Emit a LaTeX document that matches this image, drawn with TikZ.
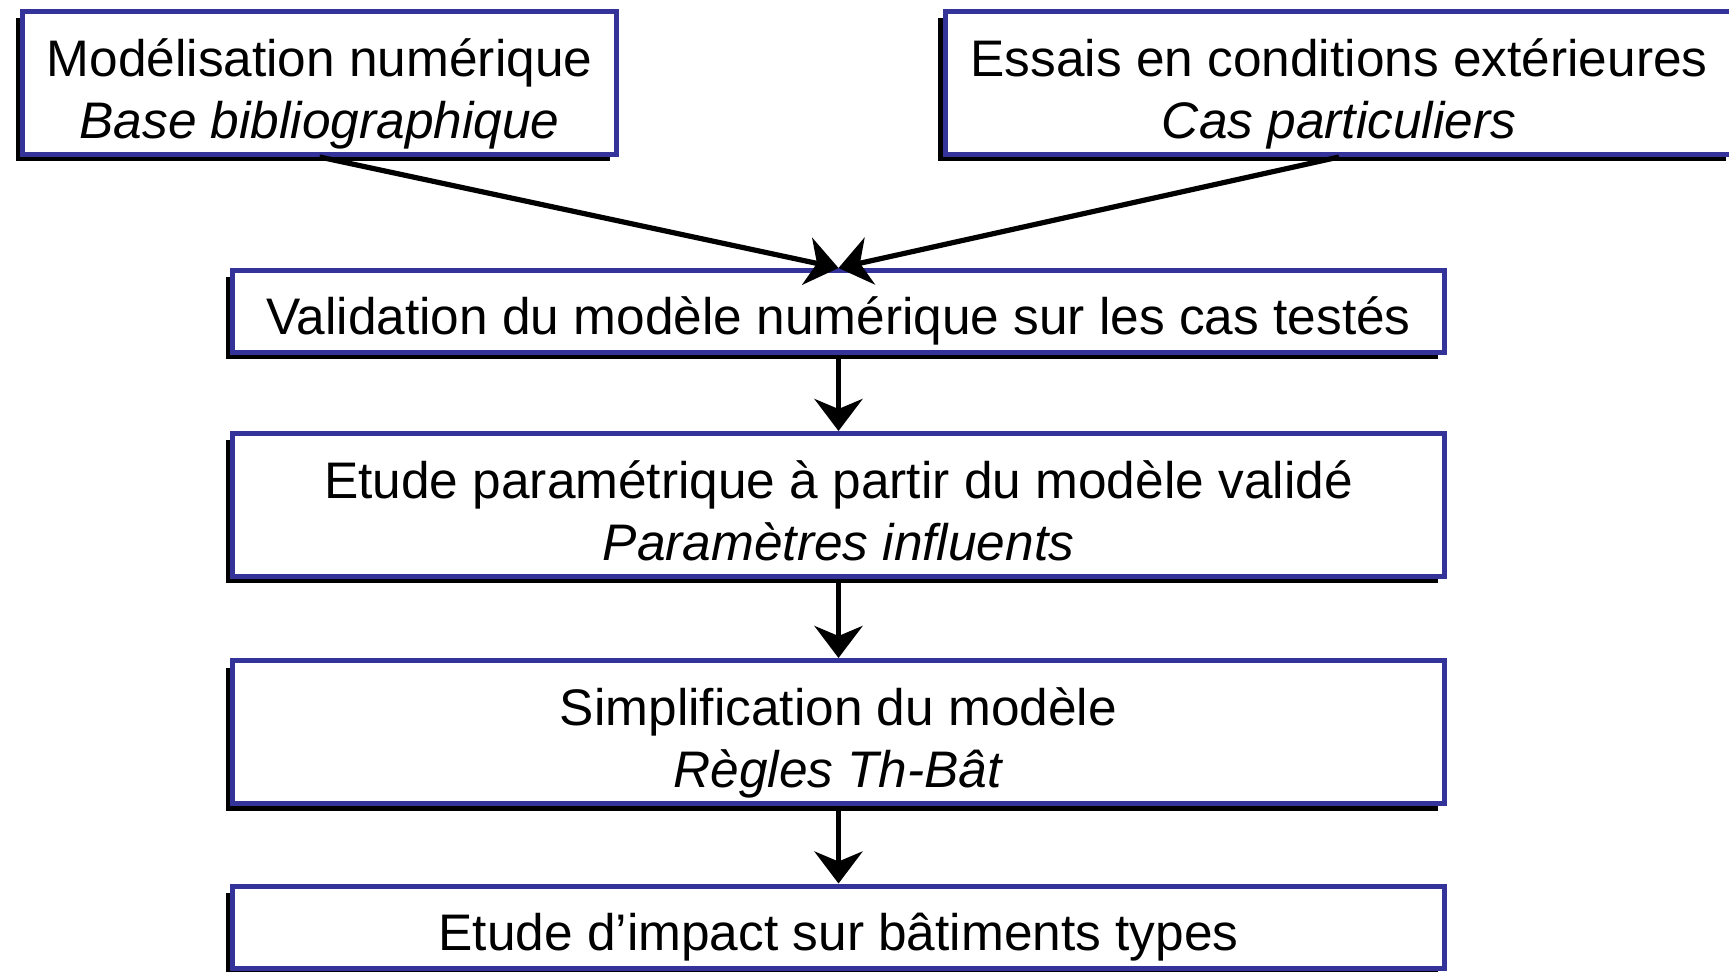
\documentclass[tikz,border=0pt]{standalone}
\usepackage{fontspec}
\setmainfont{Liberation Sans}
\usepackage{tikz}
\definecolor{bb}{RGB}{51, 51, 153}
\usetikzlibrary{shadows}
\usetikzlibrary{arrows.meta}

\begin{document}
\begin{tikzpicture}[x=0.5pt, y=-0.5pt,
  box/.style={rectangle, draw=bb, fill=white, line width=2.5pt, align=center, inner sep=0pt,
    font=\fontsize{25.7}{31}\selectfont, text height=55.5pt, text depth=0pt, minimum height=71.5pt,
    drop shadow={shadow xshift=-3.5pt, shadow yshift=-3.5pt, fill=black, opacity=1}},
  slim/.style={text height=23pt, minimum height=41pt},
  link/.style={line width=2.6pt, color=black, -{Stealth[length=16pt, width=24pt, inset=5pt]}}]
\useasboundingbox (0,0) rectangle (1729,972);
\node (1) [box, minimum width=297pt] at (319.5, 83) {Modélisation numérique\\\textit{Base bibliographique}};
\node (2) [box, minimum width=394pt] at (1339, 83) {Essais en conditions extérieures\\\textit{Cas particuliers}};
\node (3) [box, slim, minimum width=606pt] at (838.5, 311.5) {Validation du modèle numérique sur les cas testés};
\node (4) [box, minimum width=606pt] at (838.5, 505) {Etude paramétrique à partir du modèle validé\\\textit{Paramètres influents}};
\node (5) [box, minimum width=606pt] at (838.5, 732) {Simplification du modèle\\\textit{Règles Th-Bât}};
\node (6) [box, slim, minimum width=606pt] at (838.5, 927) {Etude d’impact sur bâtiments types};
\draw [link] (1.south) to (3.north);
\draw [link] (2.south) to (3.north);
\draw [link] (3) to (4);
\draw [link] (4) to (5);
\draw [link] (5) to (6);
\end{tikzpicture}
\end{document}
